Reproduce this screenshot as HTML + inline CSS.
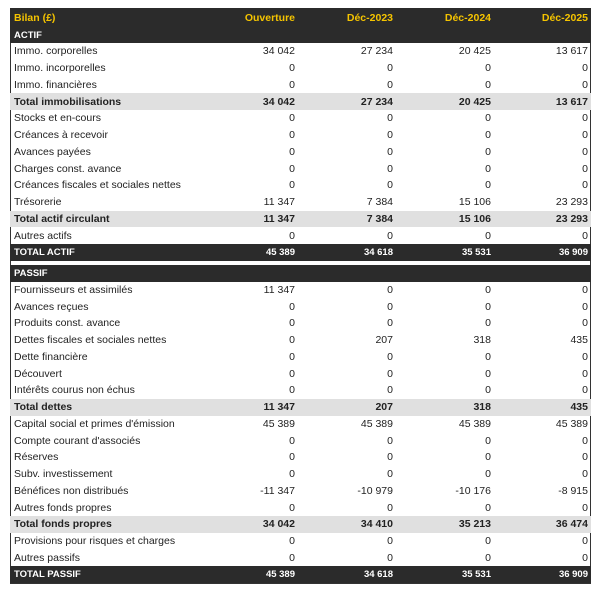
<!DOCTYPE html>
<html><head><meta charset="utf-8"><style>
body{margin:0;background:#fff;font-family:"Liberation Sans",sans-serif;font-size:10.5px;color:#222}
#t{position:absolute;left:10px;top:8px;width:581px;height:576px;border:1px solid #333;box-sizing:border-box;border-top:none}
.r{position:absolute;left:10px;width:581px;display:flex;align-items:center;box-sizing:border-box}
.r span{display:block}
.l{width:187px;padding-left:4px;box-sizing:border-box}
.n{width:98px;text-align:right}
.n:last-child{width:100px;padding-right:3px;box-sizing:border-box}
.h{background:#2b2b2b;color:#f5c400;font-weight:bold;font-size:10.5px}
.d{background:#2b2b2b;color:#fff;font-weight:bold;font-size:9.5px}
.g{background:#e0e0e0;font-weight:bold}
</style></head><body>
<div id="t"></div>
<div id="c"></div>
<script>
const rows=[
['h','Bilan (£)','Ouverture','Déc-2023','Déc-2024','Déc-2025',8,19],
['d','ACTIF','','','','',27,16],
];
const A=[['','Immo. corporelles','34 042','27 234','20 425','13 617'],
['','Immo. incorporelles','0','0','0','0'],
['','Immo. financières','0','0','0','0'],
['g','Total immobilisations','34 042','27 234','20 425','13 617'],
['','Stocks et en-cours','0','0','0','0'],
['','Créances à recevoir','0','0','0','0'],
['','Avances payées','0','0','0','0'],
['','Charges const. avance','0','0','0','0'],
['','Créances fiscales et sociales nettes','0','0','0','0'],
['','Trésorerie','11 347','7 384','15 106','23 293'],
['g','Total actif circulant','11 347','7 384','15 106','23 293'],
['','Autres actifs','0','0','0','0'],
['d','TOTAL ACTIF','45 389','34 618','35 531','36 909']];
const P=[['','Fournisseurs et assimilés','11 347','0','0','0'],
['','Avances reçues','0','0','0','0'],
['','Produits const. avance','0','0','0','0'],
['','Dettes fiscales et sociales nettes','0','207','318','435'],
['','Dette financière','0','0','0','0'],
['','Découvert','0','0','0','0'],
['','Intérêts courus non échus','0','0','0','0'],
['g','Total dettes','11 347','207','318','435'],
['','Capital social et primes d\'émission','45 389','45 389','45 389','45 389'],
['','Compte courant d\'associés','0','0','0','0'],
['','Réserves','0','0','0','0'],
['','Subv. investissement','0','0','0','0'],
['','Bénéfices non distribués','-11 347','-10 979','-10 176','-8 915'],
['','Autres fonds propres','0','0','0','0'],
['g','Total fonds propres','34 042','34 410','35 213','36 474'],
['','Provisions pour risques et charges','0','0','0','0'],
['','Autres passifs','0','0','0','0'],
['d','TOTAL PASSIF','45 389','34 618','35 531','36 909']];
A.forEach((r,i)=>rows.push([...r,43+i*16.75,16.75]));
rows.push(['d','PASSIF','','','','',265,16.5]);
P.forEach((r,i)=>rows.push([...r,281.5+i*16.75,16.75]));
let h='';
rows.forEach(r=>{h+=`<div class="r ${r[0]}" style="top:${r[6]}px;height:${r[7]}px"><span class="l">${r[1]}</span><span class="n">${r[2]}</span><span class="n">${r[3]}</span><span class="n">${r[4]}</span><span class="n">${r[5]}</span></div>`});
document.getElementById('c').innerHTML=h;
</script>
</body></html>
